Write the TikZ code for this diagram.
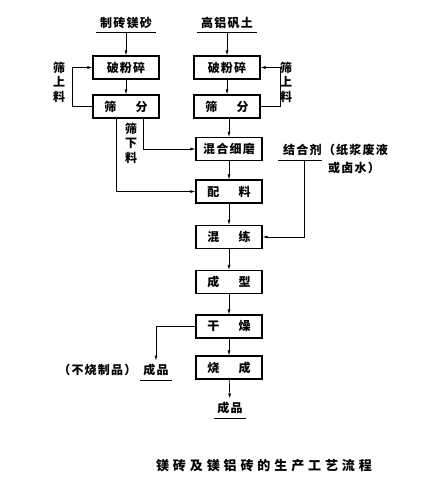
\documentclass[tikz,border=0pt]{standalone}
\usepackage{fontspec}
\newfontfamily\cjk{Noto Sans CJK SC}[LetterSpace=10]
\newfontfamily\cjkcap{Noto Sans CJK SC}[LetterSpace=30]
\usetikzlibrary{positioning,arrows.meta,calc}

\begin{document}
\begin{tikzpicture}[
  x=1pt, y=-1pt,
  font=\cjk\bfseries\fontsize{12}{14}\selectfont,
  stepbox/.style = {draw, line width=1.1pt, minimum width=66pt, minimum height=23pt,
                    inner sep=1pt},
  src/.style     = {anchor=south, minimum width=60pt, inner ysep=3pt},
  uline/.style   = {line width=0.9pt},
  link/.style    = {line width=0.7pt},
  flow/.style    = {link, -{Latex[length=5pt,width=3pt]}},
  vlab/.style    = {align=center, font=\cjk\bfseries\fontsize{12}{14.5}\selectfont},
]
\useasboundingbox (0,0) rectangle (426,493);

% raw materials
\node[src] (lsrc) at (126,32) {制砖镁砂};
\node[src] (rsrc) at (227,32) {高铝矾土};
\draw[uline] (lsrc.south west) -- (lsrc.south east);
\draw[uline] (rsrc.south west) -- (rsrc.south east);

% crushing and screening
\node[stepbox] (lcrush) at (126,67.5)  {破粉碎};
\node[stepbox] (lsieve) at (126,106.5) {筛\hspace{1.6em}分};
\node[stepbox] (rcrush) at (227,67.5)  {破粉碎};
\node[stepbox] (rsieve) at (227,106.5) {筛\hspace{1.6em}分};

% main line
\node[stepbox] (mill)  at (229,149)   {混合细磨};
\node[stepbox] (batch) at (229,191.5) {配\hspace{1.6em}料};
\node[stepbox] (mix)   at (229,237)   {混\hspace{1.6em}练};
\node[stepbox] (press) at (229,282)   {成\hspace{1.6em}型};
\node[stepbox] (dry)   at (229,326.5) {干\hspace{1.6em}燥};
\node[stepbox] (fire)  at (229,367.5) {烧\hspace{1.6em}成};

% products
\node (prod)  at (230,408) {成品};
\node (produ) at (156,370) {成品};
\node[left=0pt of produ] (unfired) {（不烧制品）};
\draw[uline] ([yshift=-1pt]prod.south west)  -- ([yshift=-1pt]prod.south east);
\draw[uline] ([yshift=-1pt]produ.south west) -- ([yshift=-1pt]produ.south east);

% binder
\node[anchor=west, inner xsep=0pt] (binder) at (283,150) {结合剂};
\node[anchor=west, inner xsep=0pt] (binote) at ([xshift=1pt]binder.east) {（纸浆废液};
\node[anchor=west, inner xsep=0pt] (binote2) at (328,168) {或卤水）};
\draw[uline] ([xshift=-5pt,yshift=-1pt]binder.south west) -- ([yshift=-1pt]binder.south east);
\coordinate (bfoot) at ([xshift=2pt,yshift=-1pt]binder.south);

% screen-over labels
\node[vlab] (lover) at (59,82)  {筛\\上\\料};
\node[vlab] (rover) at (286,82) {筛\\上\\料};
\node[vlab] (lunder) at (131,143) {筛\\下\\料};

% connectors
\draw[flow] (lsrc.south) -- (lcrush.north);
\draw[flow] (rsrc.south) -- (rcrush.north);
\draw[flow] (lcrush) -- (lsieve);
\draw[flow] (rcrush) -- (rsieve);
\draw[flow] (lsieve.west) -- ++(-20,0) |- (lcrush.west);
\draw[flow] (rsieve.east) -- ++(20,0) |- (rcrush.east);
\draw[flow] ([xshift=17pt]lsieve.south) |- (mill.west);
\draw[flow] ([xshift=-10pt]lsieve.south) |- (batch.west);
\draw[flow] (rsieve.south -| mill.north) -- (mill.north);
\draw[flow] (mill) -- (batch);
\draw[flow] (batch) -- (mix);
\draw[flow] (bfoot) |- (mix.east);
\draw[flow] (mix) -- (press);
\draw[flow] (press) -- (dry);
\draw[flow] (dry) -- (fire);
\draw[flow] (fire) -- (prod);
\draw[flow] (dry.west) -| (produ.north);

% caption
\node[font=\cjkcap\bfseries\fontsize{13}{15}\selectfont] (caption) at (264,466)
  {镁砖及镁铝砖的生产工艺流程};
\end{tikzpicture}
\end{document}
